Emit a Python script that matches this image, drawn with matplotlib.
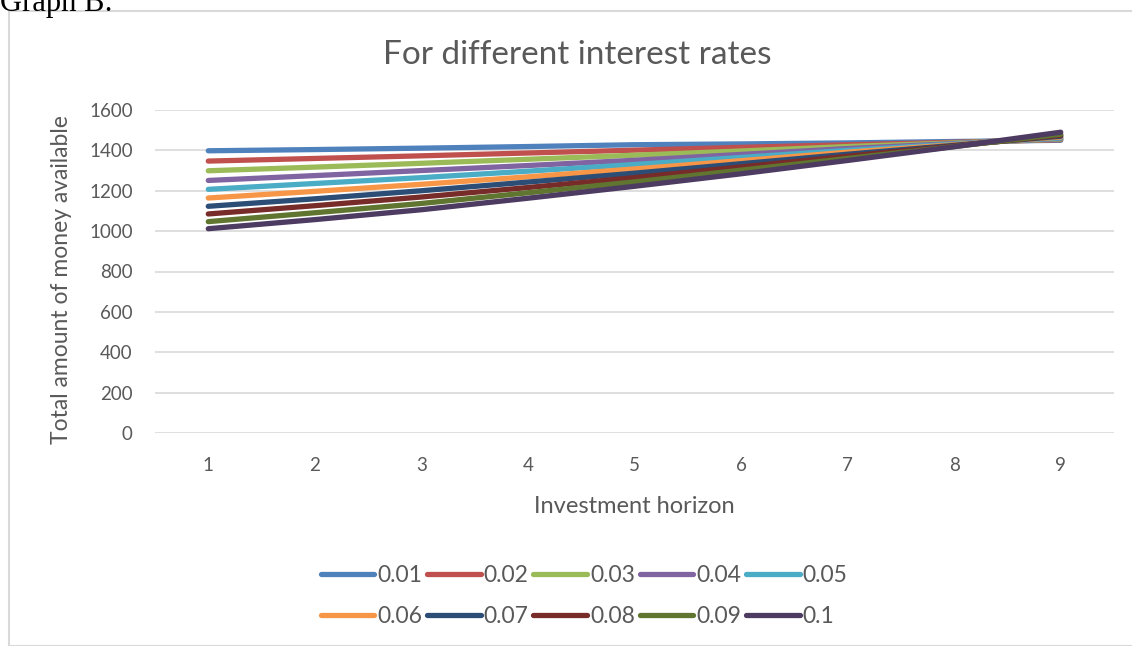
import matplotlib
matplotlib.use("Agg")
import matplotlib.pyplot as plt
from matplotlib.patches import Rectangle
from matplotlib.lines import Line2D

# Investment horizons (categories on the x axis)
horizons = [1, 2, 3, 4, 5, 6, 7, 8, 9]

# Interest rates (one series each)
rates = ["0.01", "0.02", "0.03", "0.04", "0.05", "0.06", "0.07", "0.08", "0.09", "0.1"]

# Total amount of money available, per rate, over the horizons
r001 = [1398, 1404, 1411, 1419, 1428, 1432, 1437, 1444, 1450]
r002 = [1347, 1360, 1373, 1387, 1401, 1415, 1428, 1440, 1453]
r003 = [1299, 1317, 1336, 1356, 1376, 1397, 1419, 1437, 1456]
r004 = [1251, 1275, 1300, 1325, 1351, 1380, 1409, 1434, 1459]
r005 = [1207, 1236, 1265, 1297, 1330, 1365, 1400, 1431, 1462]
r006 = [1164, 1197, 1232, 1269, 1308, 1349, 1391, 1428, 1466]
r007 = [1123, 1160, 1200, 1243, 1287, 1334, 1381, 1425, 1470]
r008 = [1085, 1126, 1169, 1216, 1265, 1318, 1371, 1422, 1475]
r009 = [1047, 1091, 1137, 1190, 1244, 1302, 1360, 1419, 1480]
r010 = [1012, 1057, 1106, 1163, 1222, 1284, 1350, 1418, 1490]

series = [r001, r002, r003, r004, r005, r006, r007, r008, r009, r010]

colors = ["#4F81BD", "#C0504D", "#9BBB59", "#8064A2", "#4BACC6",
          "#F79646", "#2C4D75", "#772C2A", "#5F7530", "#4D3B62"]

FONT = ["Lato", "DejaVu Sans"]
TEXT = "#595959"
GRID = "#D9D9D9"

plt.rcParams["font.family"] = FONT

W, H = 1132, 646
fig = plt.figure(figsize=(W / 100, H / 100), dpi=100)

# chart frame
fig.patches.append(Rectangle((9 / W, 0), 1.2, 1 - 11 / H, transform=fig.transFigure,
                             fill=False, edgecolor=GRID, linewidth=1.5))

# caption above the chart, partly cut by the top edge
fig.text(0.0, 1 + 11 / H, "Graph B:", fontsize=22, family=["Liberation Serif", "DejaVu Serif"],
         color="black", ha="left", va="top")

left, right = 155 / W, 1114 / W
bottom, top = 1 - 433 / H, 1 - 110 / H
ax = fig.add_axes([left, bottom, right - left, top - bottom])

for vals, c, lab in zip(series, colors, rates):
    ax.plot(horizons, vals, color=c, linewidth=3.8, solid_capstyle="round",
            solid_joinstyle="round", label=lab, zorder=3)

ax.set_xlim(0.5, 9.5)
ax.set_ylim(0, 1600)
ax.set_yticks(range(0, 1601, 200))
ax.set_xticks(horizons)
ax.grid(axis="y", color=GRID, linewidth=1.2, zorder=0)
ax.set_axisbelow(True)
for s in ax.spines.values():
    s.set_visible(False)
ax.tick_params(axis="both", length=0, labelsize=13.5, labelcolor=TEXT)
ax.tick_params(axis="x", pad=17)
ax.tick_params(axis="y", pad=16)

ax.set_xlabel("Investment horizon", fontsize=17, color=TEXT, labelpad=16)
fig.text(62 / W, 1 - 280 / H, "Total amount of money available", rotation=90,
         fontsize=16.5, color=TEXT, ha="center", va="center")

fig.text(577 / W, 1 - 55 / H, "For different interest rates", fontsize=24,
         color=TEXT, ha="center", va="center")

# legend: two rows of five entries, filled row by row
handles = [Line2D([0], [0], color=c, linewidth=3.8, solid_capstyle="round") for c in colors]
order = []
for col in range(5):
    order += [col, col + 5]
leg = fig.legend([handles[i] for i in order], [rates[i] for i in order],
                 ncol=5, loc="center", bbox_to_anchor=(584 / W, 1 - 596 / H),
                 frameon=False, fontsize=16.5, handlelength=2.35, handletextpad=0.13,
                 columnspacing=0.2, labelspacing=0.9, labelcolor=TEXT)

fig.savefig("out.png", dpi=100)
